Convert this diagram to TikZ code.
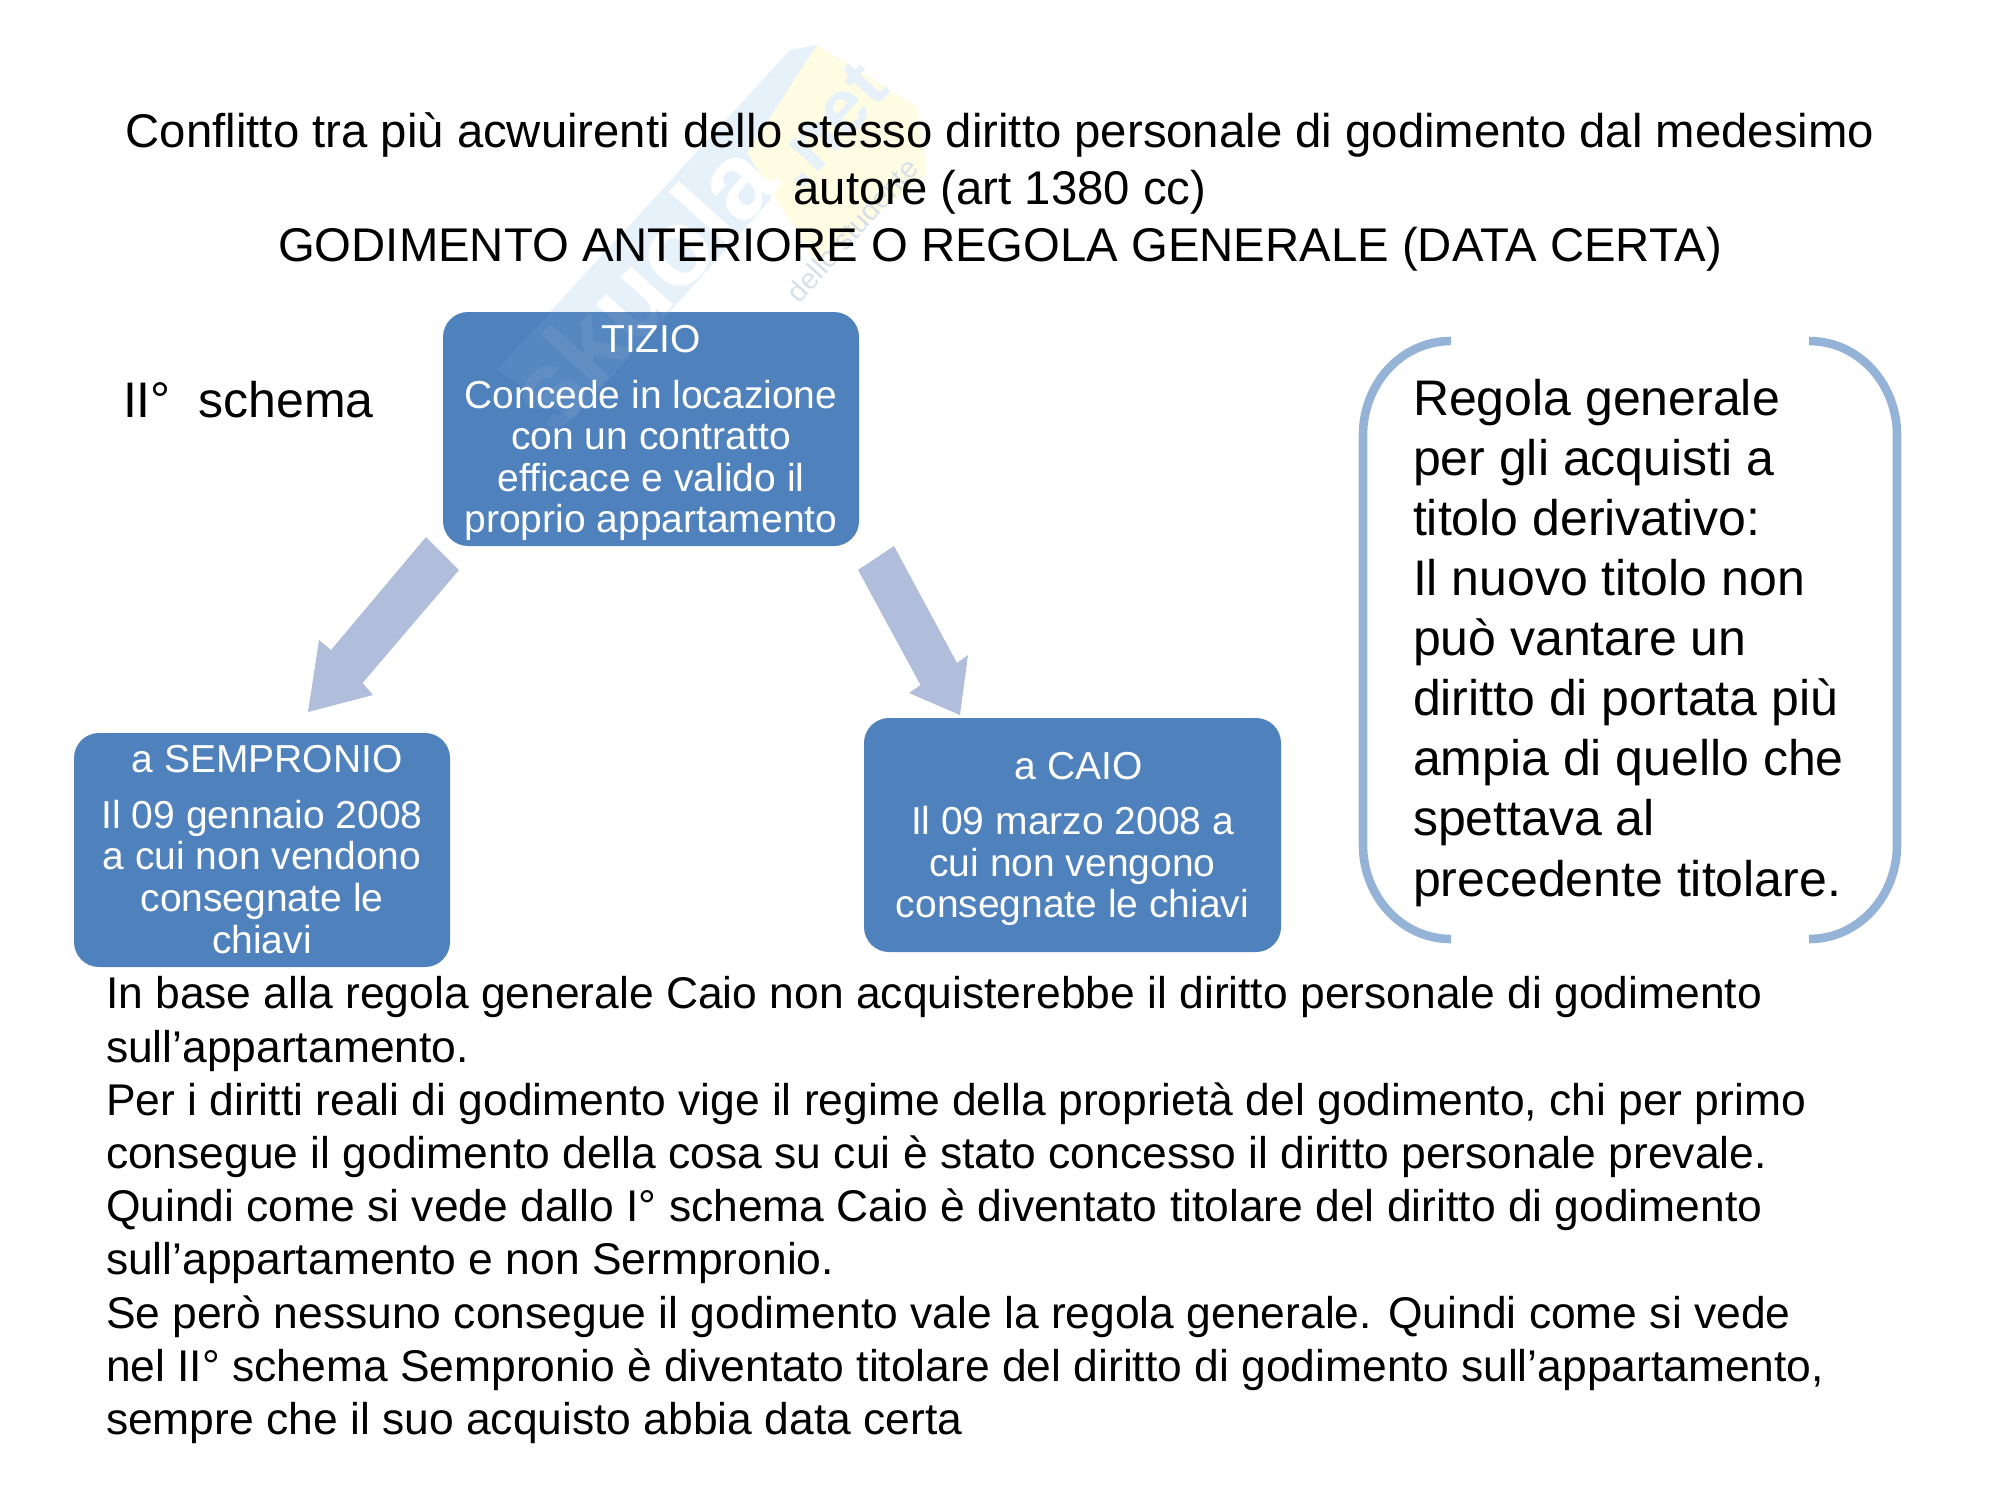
\documentclass[tikz,border=0pt]{standalone}
\usepackage{fontspec}
\setmainfont{Liberation Sans}
\definecolor{boxblue}{HTML}{4F81BD}
\definecolor{arrowblue}{HTML}{B0BEDB}
\definecolor{bracketblue}{HTML}{95B3D7}
\definecolor{wmblue}{HTML}{E6F1F9}
\definecolor{wmyellow}{HTML}{FEFCE3}
\newcommand{\fs}[2]{\fontsize{#1}{#2}\selectfont}
\tikzset{
  every node/.style={inner sep=0pt,outer sep=0pt},
  blockbox/.style={fill=boxblue,rounded corners=12.5pt,text=white,align=center,anchor=north west},
  plaintext/.style={text=black,anchor=base west,align=left},
  bigarrow/.style={fill=arrowblue,draw=none},
  bracketline/.style={draw=bracketblue,line width=4.3pt},
  title/.style={text=black,anchor=base,align=center}
}
\begin{document}
\begin{tikzpicture}[x=0.5pt,y=-0.5pt]
\useasboundingbox (0,0) rectangle (2000,1500);
% watermark
\fill[wmblue] (790,50) -- (497,370) -- (573,420) -- (770,200) -- (817,45) -- cycle;
\fill[wmyellow] (817,45) -- (917,107) -- (927,173) -- (817,263) -- (747,153) -- cycle;
\node[rotate=48,text=white,font=\bfseries\fs{54}{60}] (wm) at (640,285) {skuola};
\node[rotate=48,text=wmblue,font=\bfseries\fs{38}{40}] (wmnet) at (828,125) {.net};
\node[rotate=48,text=wmblue!85!gray,font=\fs{14.5}{18}] (wm2) at (852,230) {dello studente};
% title
\node[title,font=\fs{23.65}{28.5}] (ttl) at (1000,261) {Conflitto tra più acwuirenti dello stesso diritto personale di godimento dal medesimo\\autore (art 1380 cc)\\GODIMENTO ANTERIORE O REGOLA GENERALE (DATA CERTA)};
\node[plaintext,font=\fs{25}{30}] (schema) at (123,417) {II°\ \ schema};
% boxes
\node[blockbox] (tizio) at (443,312) {\begin{minipage}[c][117pt][t]{208pt}\centering\fs{19.5}{20.8}\vspace*{6.8pt}TIZIO\\[6.8pt]Concede in locazione\\con un contratto\\efficace e valido il\\proprio appartamento\end{minipage}};
\node[blockbox] (semp) at (74,733) {\begin{minipage}[c][117pt][t]{188pt}\centering\fs{19.5}{20.9}\vspace*{6.2pt}\hspace*{5pt}a SEMPRONIO\\[6.8pt]Il 09 gennaio 2008\\a cui non vendono\\consegnate le\\chiavi\end{minipage}};
\node[blockbox] (caio) at (864,718) {\begin{minipage}[c][117pt][t]{208.5pt}\centering\fs{19.5}{20.8}\vspace*{17pt}\hspace*{6pt}a CAIO\\[6.8pt]Il 09 marzo 2008 a\\cui non vengono\\consegnate le chiavi\end{minipage}};
% watermark showing through the top box
\begin{scope}
\clip (443,312) rectangle (858,546);
\fill[white,opacity=0.05] (790,50) -- (497,370) -- (573,420) -- (770,200) -- (817,45) -- cycle;
\node[rotate=48,text=white,opacity=0.06,font=\bfseries\fs{54}{60}] (wmb) at (640,285) {skuola};
\end{scope}
% arrows
\coordinate (la) at (426,537); \coordinate (lb) at (459,570);
\coordinate (ra) at (894,546); \coordinate (rb) at (858,570);
\fill[bigarrow] (la) -- (lb) -- (362.5,683) -- (373,695) -- (308,712) -- (319,640) -- (331,650) -- cycle;
\fill[bigarrow] (ra) -- (rb) -- (920.5,685) -- (909,693) -- (960,715) -- (968,655) -- (957,663) -- cycle;
% brackets
\coordinate (bl1) at (1451,341); \coordinate (bl2) at (1451,939);
\coordinate (br1) at (1809,341); \coordinate (br2) at (1809,939);
\draw[bracketline] (bl1) to[out=180,in=90] (1363,435) -- (1363,845) to[out=-90,in=180] (bl2);
\draw[bracketline] (br1) to[out=0,in=90] (1897,435) -- (1897,845) to[out=-90,in=0] (br2);
\node[plaintext,font=\fs{25}{30.05}] (rule) at (1413,896) {Regola generale\\per gli acquisti a\\titolo derivativo:\\Il nuovo titolo non\\può vantare un\\diritto di portata più\\ampia di quello che\\spettava al\\precedente titolare.};
% bottom
\node[plaintext,font=\fs{22.2}{26.6}] (body) at (106,1434.5) {In base alla regola generale Caio non acquisterebbe il diritto personale di godimento\\sull’appartamento.\\Per i diritti reali di godimento vige il regime della proprietà del godimento, chi per primo\\consegue il godimento della cosa su cui è stato concesso il diritto personale prevale.\\Quindi come si vede dallo I° schema Caio è diventato titolare del diritto di godimento\\sull’appartamento e non Sermpronio.\\Se però nessuno consegue il godimento vale la regola generale. Quindi come si vede\\nel II° schema Sempronio è diventato titolare del diritto di godimento sull’appartamento,\\sempre che il suo acquisto abbia data certa};
\end{tikzpicture}
\end{document}
